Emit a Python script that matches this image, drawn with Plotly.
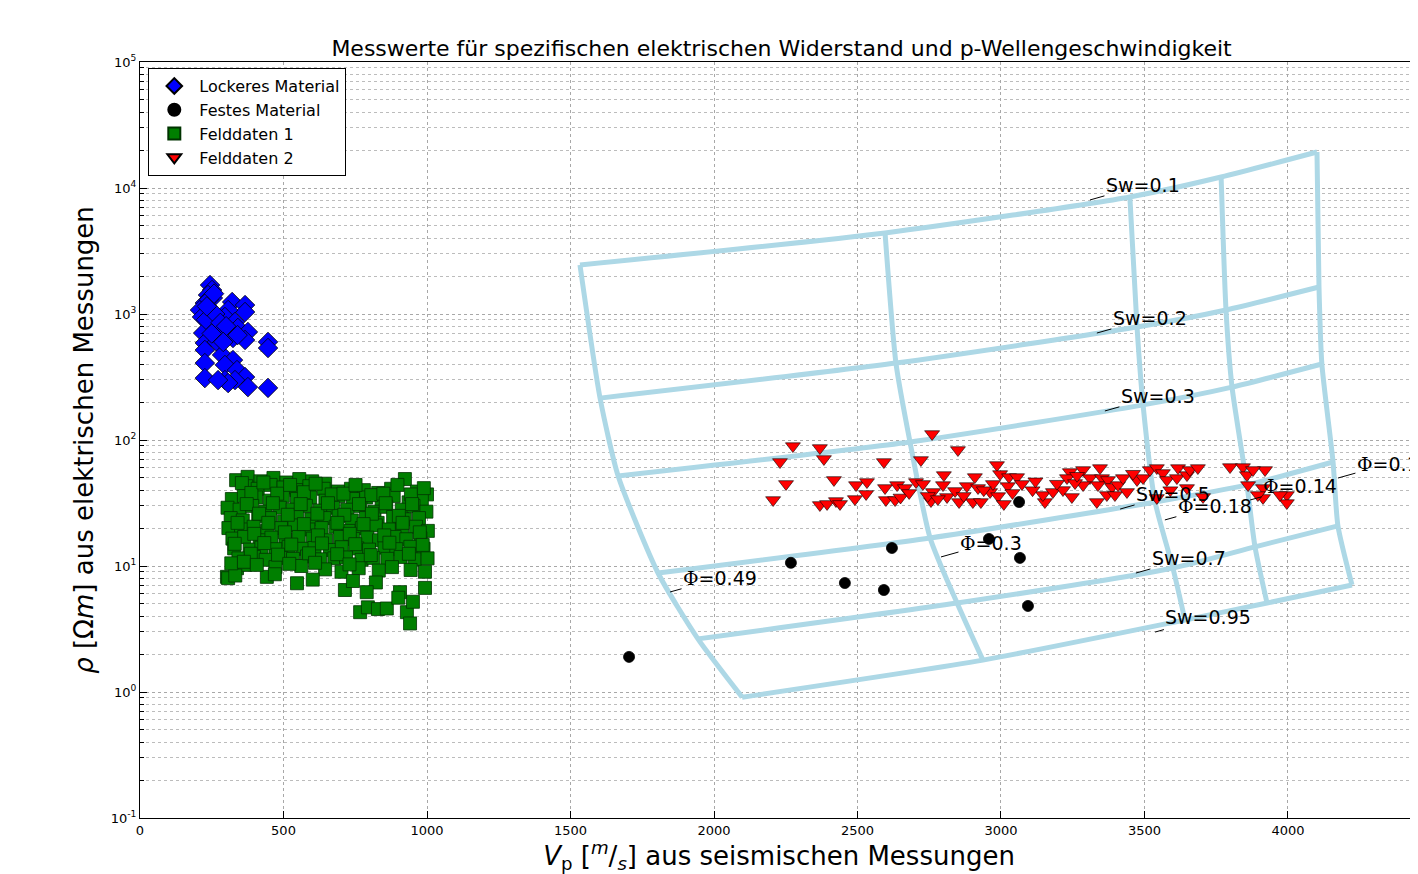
import math
import plotly.graph_objects as go

# ---------------- data ----------------
lock_vp = [244, 251, 237, 254, 226, 209, 244, 216, 254, 321, 366, 366, 307, 296, 331, 261, 220, 272,
           307, 341, 376, 324, 366, 226, 268, 226, 446, 446, 286, 324, 226, 296, 338, 366, 331, 296,
           226, 376, 307, 446, 272, 240, 230, 262, 280, 300, 250, 290, 340, 258, 233]
lock_rho = [1698, 1550, 1415, 1340, 1222, 1075, 1075, 947, 896, 1245, 1178, 1037, 1075, 947, 864, 775,
            706, 657, 720, 775, 720, 645, 622, 589, 600, 518, 600, 537, 473, 431, 408, 394, 359, 316,
            299, 299, 310, 263, 283, 259, 299, 1300, 900, 1000, 850, 800, 700, 600, 680, 1450, 1150]

festes_vp = [1704, 2268, 2456, 2592, 2620, 2958, 3063, 3066, 3094]
festes_rho = [1.90, 10.6, 7.33, 6.45, 13.9, 16.4, 32.2, 11.6, 4.82]

feld1_vp = [
    335, 375, 420, 465, 510, 555, 600, 645,
    370, 410, 455, 500, 545, 590, 640, 690, 735, 780, 830, 875, 923, 965, 1000,
    320, 362, 405, 452, 498, 547, 593, 646, 692, 742, 788, 842, 884, 936, 982,
    305, 347, 391, 438, 487, 532, 578, 627, 673, 722, 768, 817, 858, 912, 953, 998,
    316, 358, 412, 453, 502, 548, 597, 643, 692, 738, 787, 828, 882, 923, 972,
    308, 352, 396, 443, 492, 538, 587, 633, 682, 727, 773, 822, 867, 913, 962, 1003,
    322, 363, 417, 458, 507, 553, 602, 648, 697, 743, 792, 833, 887, 928, 977,
    328, 382, 423, 472, 518, 567, 608, 662, 703, 757, 798, 852, 893, 942, 988,
    343, 397, 438, 492, 533, 582, 628, 677, 718, 772, 813, 862, 908, 957, 1002,
    303, 338, 366, 442, 472, 547, 562, 645, 702, 762, 832, 878, 943, 993,
    307, 332, 470, 602, 714, 742, 822, 906, 993,
    767, 794, 829, 860, 930, 941, 951, 790, 900,
    355, 388, 430, 478, 523, 571, 612, 668, 709, 751, 806, 848, 897, 944, 989,
    372, 415, 463, 515, 560, 618, 655, 712, 763, 808, 856, 902, 948,
    340, 398, 447, 505, 571, 620, 688, 731, 779, 851, 915, 975,
    330, 386, 433, 481, 527, 589, 634, 687, 750, 804, 869, 937, 985,
    318, 362, 407, 520, 610, 730,
]
feld1_rho = [
    48, 51, 47, 50, 46, 49, 47, 45,
    43, 41, 44, 42, 40, 43, 41, 39, 41, 40, 38, 41, 49, 39, 37,
    34, 36, 35, 33, 36, 34, 35, 33, 36, 34, 35, 33, 36, 32, 34,
    29, 28, 30, 27, 29, 28, 30, 27.5, 29, 28, 30, 27, 29.5, 28, 30, 27,
    24, 23, 25, 24, 22.5, 24.5, 23.5, 24, 25, 23, 24, 22, 24.5, 23.5, 24,
    20, 19.5, 20.5, 19, 20, 21, 19.5, 20, 20.5, 19, 20, 21, 19.5, 20, 20.5, 19,
    16.5, 17, 16, 16.8, 16.2, 17, 16.5, 16, 17, 16.4, 16.8, 16, 17, 16.3, 16.6,
    13.8, 13.5, 14, 13.6, 14.2, 13.7, 13.9, 13.4, 14.1, 13.8, 13.5, 14, 13.6, 14.2, 13.7,
    11.5, 11.8, 11.2, 11.6, 11.4, 11.9, 11.3, 11.5, 11.7, 11.2, 11.6, 11.4, 11.8, 11.3, 11.5,
    8.2, 9.6, 10.2, 8.2, 9.8, 7.3, 10.0, 9.4, 9.0, 9.6, 9.2, 9.8, 9.3, 9.0,
    8.0, 8.4, 8.6, 7.8, 6.45, 7.6, 7.4, 6.2, 6.7,
    4.3, 4.7, 4.55, 4.6, 4.3, 3.5, 5.2, 6.2, 5.6,
    45.5, 38, 46, 37.5, 44, 38.5, 45, 37, 37.5, 44, 36.5, 37.5, 44, 37, 41.5,
    31, 26, 31.5, 25.5, 31, 26, 31.5, 25.5, 31, 26, 31.5, 25, 31,
    22, 18, 22, 18.5, 21.5, 17.5, 22, 18, 21.5, 17.5, 22, 18.5,
    15, 12.5, 15.2, 12.3, 14.8, 12.6, 15.1, 12.4, 14.9, 12.2, 15.3, 12.5, 14.7,
    10.5, 10.8, 10.2, 10.4, 10.6, 10.3,
]

feld2_vp = [2275, 2369, 2230, 2383, 2760, 2850, 2592, 2721, 2418, 2251, 2206, 2369, 2394, 2425, 2439,
            2495, 2491, 2530, 2533, 2596, 2599, 2631, 2638, 2665, 2704, 2728, 2763, 2756, 2798, 2801,
            2812, 2840, 2854, 2881, 2902, 2909, 2920, 2930, 2962, 2972, 2986, 2997, 2990, 3010, 3028,
            3056, 3073, 3024, 3153, 3146, 3181, 3216, 3240, 3230, 3247, 3286, 3310, 3286, 3258, 3345,
            3352, 3338, 3334, 3373, 3387, 3369, 3408, 3397, 3425, 3439, 3474, 3495, 3519, 3543, 3564,
            3543, 3578, 3617, 3613, 3648, 3658, 3686, 3704, 3648, 3798, 3843, 3857, 3861, 3920, 3913,
            3913, 3996, 3996, 3878, 3895, 3972, 2650, 2680, 2745, 2780, 2870, 2940, 3040, 3110, 3120,
            3195, 3265, 3460, 3590]
feld2_rho = [89.5, 86.4, 66.9, 70.7, 111.6, 83.3, 66.9, 69.4, 48.2, 44.8, 33.4, 30.5, 31.1, 32.8, 31.1,
             43.9, 34.0, 37.3, 46.4, 41.6, 33.4, 33.4, 43.9, 41.6, 46.4, 44.8, 38.7, 32.8, 43.9, 52.7,
             35.3, 39.4, 32.2, 43.1, 32.2, 50.8, 41.6, 32.2, 38.7, 44.8, 63.3, 53.7, 35.9, 31.1, 50.8,
             50.8, 44.8, 43.1, 32.2, 36.6, 38.7, 40.1, 55.7, 49.9, 35.3, 57.8, 49.9, 43.9, 45.6, 59.9,
             49.9, 43.9, 32.2, 48.2, 42.4, 36.6, 43.9, 36.6, 49.9, 38.7, 48.2, 49.9, 57.8, 59.9, 54.7,
             34.7, 48.2, 59.9, 49.9, 52.7, 57.8, 59.9, 35.3, 41.6, 61.0, 61.0, 52.7, 43.9, 57.8, 41.6,
             34.7, 36.6, 31.6, 57.8, 36.6, 36.6, 35.0, 38.0, 36.0, 34.0, 36.0, 40.0, 38.0, 40.0, 47.0,
             45.0, 52.0, 54.0, 40.0]

# Template grid (porosity Phi vs water saturation Sw)
phi_levels = ["0.49", "0.3", "0.18", "0.14", "0.1"]
sw_levels = ["0.1", "0.2", "0.3", "0.5", "0.7", "0.95"]
grid_vp = [
    [1533, 1603, 1666, 1805, 1944, 2098],
    [2596, 2634, 2683, 2753, 2847, 2937],
    [3449, 3474, 3495, 3537, 3599, 3641],
    [3767, 3784, 3805, 3857, 3885, 3927],
    [4101, 4108, 4118, 4157, 4174, 4223],
]
grid_rho = [
    [2449, 215, 51.8, 8.8, 2.64, 0.91],
    [4395, 408, 96.4, 16.7, 5.08, 1.79],
    [8483, 788, 190, 32.2, 9.64, 3.73],
    [12220, 1076, 263, 44, 14.2, 5.08],
    [19300, 1637, 401, 66.9, 20.8, 7.07],
]

# label anchor points on the curves (Vp, rho)
sw_label_vp = [3310, 3334, 3362, 3415, 3470, 3537]
sw_label_rho = [8035, 706, 170, 28.3, 8.79, 2.99]
phi_label_vp = [1847, 2791, 3571, 3868, 4174]
phi_label_rho = [6.22, 11.8, 23.2, 33.4, 49.9]

x_ticks = [0, 500, 1000, 1500, 2000, 2500, 3000, 3500, 4000]
y_ticks = [0.1, 1, 10, 100, 1000, 10000, 100000]
y_ticktext = ["10<sup>-1</sup>", "10<sup>0</sup>", "10<sup>1</sup>", "10<sup>2</sup>",
              "10<sup>3</sup>", "10<sup>4</sup>", "10<sup>5</sup>"]

# ---------------- figure ----------------
FONT = "DejaVu Sans"
fig = go.Figure()

grid_color = "#ADD8E6"
for i in range(len(phi_levels)):
    fig.add_trace(go.Scatter(x=grid_vp[i], y=grid_rho[i], mode="lines",
                             line=dict(color=grid_color, width=5, shape="spline", smoothing=0.6),
                             showlegend=False, hoverinfo="skip"))
for j in range(len(sw_levels)):
    fig.add_trace(go.Scatter(x=[grid_vp[i][j] for i in range(len(phi_levels))],
                             y=[grid_rho[i][j] for i in range(len(phi_levels))], mode="lines",
                             line=dict(color=grid_color, width=5, shape="spline", smoothing=0.6),
                             showlegend=False, hoverinfo="skip"))

fig.add_trace(go.Scatter(x=lock_vp, y=lock_rho, mode="markers", name="Lockeres Material",
                         marker=dict(symbol="diamond", size=15, color="#0000FF",
                                     line=dict(color="black", width=0.8))))
fig.add_trace(go.Scatter(x=festes_vp, y=festes_rho, mode="markers", name="Festes Material",
                         marker=dict(symbol="circle", size=11, color="black",
                                     line=dict(color="black", width=0.8))))
fig.add_trace(go.Scatter(x=feld1_vp, y=feld1_rho, mode="markers", name="Felddaten 1",
                         marker=dict(symbol="square", size=13, color="#007F00",
                                     line=dict(color="#003300", width=0.8))))
fig.add_trace(go.Scatter(x=feld2_vp, y=feld2_rho, mode="markers", name="Felddaten 2",
                         marker=dict(symbol="triangle-down", size=13, color="#FF0000",
                                     line=dict(color="black", width=0.6))))

annotations = []
for k, lab in enumerate(sw_levels):
    annotations.append(dict(x=sw_label_vp[k], y=math.log10(sw_label_rho[k]), xref="x", yref="y",
                            text="Sw=" + lab, showarrow=True, arrowhead=0, arrowwidth=1,
                            arrowcolor="black", ax=53, ay=-15,
                            font=dict(family=FONT, size=19, color="black")))
for k, lab in enumerate(phi_levels):
    annotations.append(dict(x=phi_label_vp[k], y=math.log10(phi_label_rho[k]), xref="x", yref="y",
                            text="<span style='font-family:DejaVu Serif'>Φ</span>=" + lab,
                            showarrow=True, arrowhead=0, arrowwidth=1,
                            arrowcolor="black", ax=50, ay=-14,
                            font=dict(family=FONT, size=19, color="black")))

# the page body has an 8 px margin, so the figure is 8 px smaller than the window
fig.update_layout(
    width=1410, height=866,
    margin=dict(l=132, r=0, t=54, b=56),
    paper_bgcolor="white", plot_bgcolor="white",
    font=dict(family=FONT, color="black"),
    title=dict(text="Messwerte für spezifischen elektrischen Widerstand und p-Wellengeschwindigkeit",
               xref="paper", x=0.502, xanchor="center", y=0.954, yanchor="middle",
               font=dict(family=FONT, size=22, color="black")),
    legend=dict(x=0.0065, y=0.992, xanchor="left", yanchor="top",
                bgcolor="white", bordercolor="black", borderwidth=1,
                font=dict(family=FONT, size=16, color="black"), tracegroupgap=0,
                itemsizing="constant", itemwidth=40),
    annotations=annotations,
    showlegend=True,
)

fig.update_xaxes(
    range=[0, 4453], tickvals=x_ticks, ticktext=[str(v) for v in x_ticks],
    ticks="inside", ticklen=7, tickcolor="black",
    showline=True, linecolor="black", linewidth=1, mirror=True,
    showgrid=True, gridcolor="#a8a8a8", griddash="dot", gridwidth=1,
    zeroline=False, tickfont=dict(family=FONT, size=13, color="black"),
    title=dict(text="<i>V</i><sub>p</sub> [<sup><i>m</i></sup>/<sub><i>s</i></sub>] aus seismischen Messungen",
               font=dict(family=FONT, size=26, color="black"), standoff=6),
)

minor_vals = [m * 10 ** e for e in range(-1, 5) for m in range(2, 10)]
fig.update_yaxes(
    type="log", range=[-1, 5], tickvals=y_ticks, ticktext=y_ticktext,
    ticks="inside", ticklen=7, tickcolor="black",
    showline=True, linecolor="black", linewidth=1, mirror=False,
    showgrid=True, gridcolor="#a8a8a8", griddash="dot", gridwidth=1,
    minor=dict(tickmode="array", tickvals=minor_vals, ticks="inside", ticklen=4, tickcolor="black",
               showgrid=True, gridcolor="#bcbcbc", griddash="dot", gridwidth=1),
    zeroline=False, tickfont=dict(family=FONT, size=13, color="black"),
    title=dict(text="<i>ρ</i> [Ω<i>m</i>] aus elektrischen Messungen",
               font=dict(family=FONT, size=26, color="black"), standoff=9),
)

fig.write_html("out.html")
